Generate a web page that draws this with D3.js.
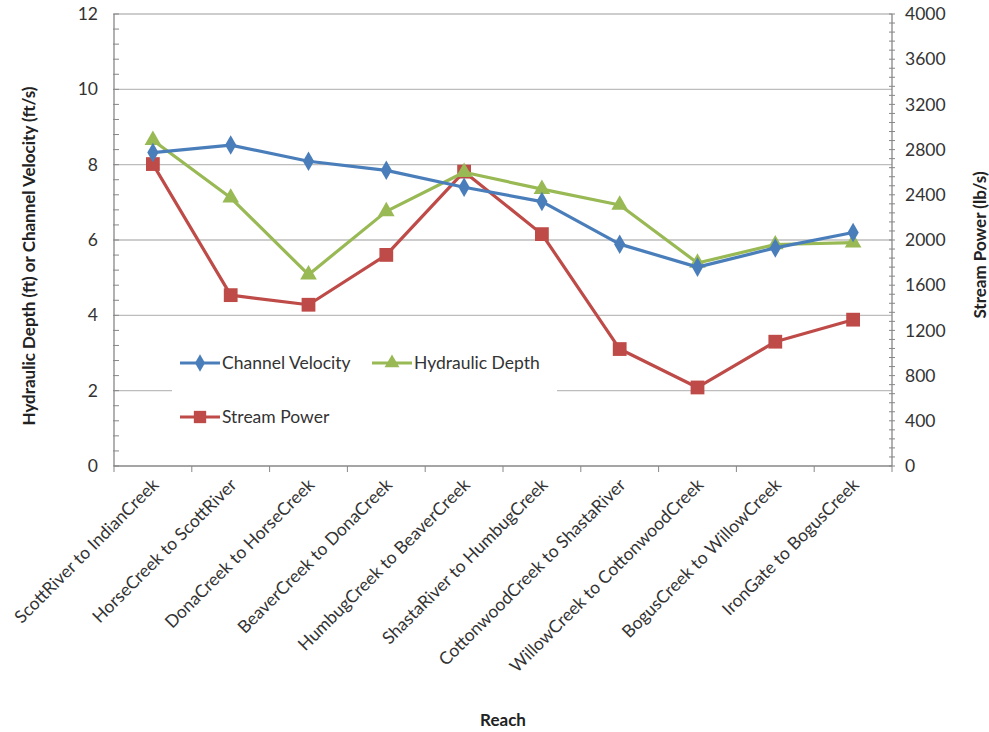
<!DOCTYPE html>
<html>
<head>
<meta charset="utf-8">
<script src="https://cdn.jsdelivr.net/npm/d3@7"></script>
<style>
  html, body { margin: 0; padding: 0; background: #fff; }
  svg { display: block; font-family: Lato, "Open Sans", sans-serif; }
</style>
</head>
<body>
<svg id="chart" width="989" height="732"></svg>
<script>
// Reaches along the river, upstream order as plotted
const reaches = [
  "ScottRiver to IndianCreek",
  "HorseCreek to ScottRiver",
  "DonaCreek to HorseCreek",
  "BeaverCreek to DonaCreek",
  "HumbugCreek to BeaverCreek",
  "ShastaRiver to HumbugCreek",
  "CottonwoodCreek to ShastaRiver",
  "WillowCreek to CottonwoodCreek",
  "BogusCreek to WillowCreek",
  "IronGate to BogusCreek"
];
const channelVelocity = [8.32, 8.52, 8.09, 7.85, 7.40, 7.02, 5.89, 5.28, 5.79, 6.20];
const hydraulicDepth  = [8.65, 7.12, 5.08, 6.76, 7.80, 7.35, 6.93, 5.39, 5.88, 5.93];
const streamPower     = [2672, 1512, 1427, 1868, 2605, 2052, 1035, 695, 1100, 1295];
const leftTicks  = [0, 2, 4, 6, 8, 10, 12];
const rightTicks = [0, 400, 800, 1200, 1600, 2000, 2400, 2800, 3200, 3600, 4000];

const svg = d3.select("#chart");
const m = { left: 114, right: 892, top: 14, bottom: 466 };
const fs = 17.5;

const x = d3.scaleBand().domain(reaches).range([m.left, m.right]).padding(0);
const yL = d3.scaleLinear().domain([0, 12]).range([m.bottom, m.top]);
const yR = d3.scaleLinear().domain([0, 4000]).range([m.bottom, m.top]);
const cx = d => x(d) + x.bandwidth() / 2;

const axisGrey = "#878787";
const gridGrey = "#bdbdbd";

// horizontal gridlines at the major left ticks
svg.append("g").selectAll("line").data(leftTicks.filter(t => t > 0)).join("line")
  .attr("x1", m.left).attr("x2", m.right)
  .attr("y1", d => yL(d)).attr("y2", d => yL(d))
  .attr("stroke", gridGrey).attr("stroke-width", 1.3);

// left axis: line, minor ticks, labels
const gl = svg.append("g");
gl.append("line").attr("x1", m.left).attr("x2", m.left).attr("y1", m.top).attr("y2", m.bottom)
  .attr("stroke", axisGrey).attr("stroke-width", 1.3);
gl.selectAll("line.minor").data(d3.range(0, 12.001, 0.4)).join("line").attr("class", "minor")
  .attr("x1", m.left - 1).attr("x2", m.left + 5)
  .attr("y1", d => yL(d)).attr("y2", d => yL(d))
  .attr("stroke", axisGrey);
gl.selectAll("text").data(leftTicks).join("text")
  .attr("x", 98).attr("y", d => yL(d)).attr("dy", "0.35em")
  .attr("text-anchor", "end").attr("font-size", fs).attr("fill", "#333")
  .text(d => d);

// right axis: line, minor ticks, labels
const gr = svg.append("g");
gr.append("line").attr("x1", m.right).attr("x2", m.right).attr("y1", m.top).attr("y2", m.bottom)
  .attr("stroke", axisGrey).attr("stroke-width", 1.3);
gr.selectAll("line.minor").data(d3.range(0, 4000.1, 80)).join("line").attr("class", "minor")
  .attr("x1", m.right - 3).attr("x2", m.right + 3)
  .attr("y1", d => yR(d)).attr("y2", d => yR(d))
  .attr("stroke", axisGrey);
gr.selectAll("text").data(rightTicks).join("text")
  .attr("x", 905).attr("y", d => yR(d)).attr("dy", "0.35em")
  .attr("text-anchor", "start").attr("font-size", fs).attr("fill", "#333")
  .text(d => d);

// bottom axis with category boundary ticks
const gb = svg.append("g");
gb.append("line").attr("x1", m.left).attr("x2", m.right).attr("y1", m.bottom).attr("y2", m.bottom)
  .attr("stroke", axisGrey).attr("stroke-width", 1.3);
const bounds = reaches.map(r => x(r)).concat([m.right]);
gb.selectAll("line.tick").data(bounds).join("line").attr("class", "tick")
  .attr("x1", d => d).attr("x2", d => d)
  .attr("y1", m.bottom).attr("y2", m.bottom + 6)
  .attr("stroke", axisGrey);
gb.selectAll("text").data(reaches).join("text")
  .attr("transform", d => `translate(${cx(d) + 7},${m.bottom + 20}) rotate(-45)`)
  .attr("text-anchor", "end").attr("font-size", fs).attr("fill", "#333")
  .text(d => d);

// axis titles
svg.append("text")
  .attr("transform", `translate(35,${(m.top + m.bottom) / 2 + 16}) rotate(-90)`)
  .attr("text-anchor", "middle").attr("font-size", 17).attr("font-weight", "bold").attr("fill", "#222")
  .text("Hydraulic Depth (ft) or Channel Velocity (ft/s)");
svg.append("text")
  .attr("transform", `translate(986,${(m.top + m.bottom) / 2 + 5}) rotate(-90)`)
  .attr("text-anchor", "middle").attr("font-size", 17).attr("font-weight", "bold").attr("fill", "#222")
  .text("Stream Power (lb/s)");
svg.append("text")
  .attr("x", (m.left + m.right) / 2).attr("y", 726)
  .attr("text-anchor", "middle").attr("font-size", 17).attr("font-weight", "bold").attr("fill", "#222")
  .text("Reach");

const blue = "#4a7ebb", green = "#98b954", red = "#be4b48";

const series = [
  { name: "Channel Velocity", values: channelVelocity, y: yL, color: blue,  symbol: d3.symbolDiamond, size: 110 },
  { name: "Hydraulic Depth",  values: hydraulicDepth,  y: yL, color: green, symbol: d3.symbolTriangle, size: 120 },
  { name: "Stream Power",     values: streamPower,     y: yR, color: red,   symbol: d3.symbolSquare, size: 190 }
];

// legend box, drawn under the series so lines crossing it stay visible
const lg = svg.append("g");
lg.append("rect").attr("x", 172).attr("y", 336).attr("width", 385).attr("height", 105).attr("fill", "#fff");

// draw series: Stream Power first, then depth, velocity on top
const drawOrder = [series[2], series[1], series[0]];
drawOrder.forEach(s => {
  const line = d3.line().x((d, i) => cx(reaches[i])).y(d => s.y(d));
  svg.append("path").datum(s.values)
    .attr("d", line).attr("fill", "none")
    .attr("stroke", s.color).attr("stroke-width", 3.2).attr("stroke-linejoin", "round");
  svg.append("g").selectAll("path").data(s.values).join("path")
    .attr("transform", (d, i) => `translate(${cx(reaches[i])},${s.y(d)})`)
    .attr("d", d3.symbol().type(s.symbol).size(s.size))
    .attr("fill", s.color);
});

// legend entries
const legendItems = [
  { s: series[0], x: 180, y: 363 },
  { s: series[1], x: 372, y: 363 },
  { s: series[2], x: 180, y: 417 }
];
legendItems.forEach(({ s, x: lx, y: ly }) => {
  lg.append("line").attr("x1", lx).attr("x2", lx + 40).attr("y1", ly).attr("y2", ly)
    .attr("stroke", s.color).attr("stroke-width", 3.2);
  lg.append("path").attr("transform", `translate(${lx + 20},${ly})`)
    .attr("d", d3.symbol().type(s.symbol).size(s.size * 0.8)).attr("fill", s.color);
  lg.append("text").attr("x", lx + 42).attr("y", ly).attr("dy", "0.35em")
    .attr("font-size", fs).attr("fill", "#333").text(s.name);
});
</script>
</body>
</html>
